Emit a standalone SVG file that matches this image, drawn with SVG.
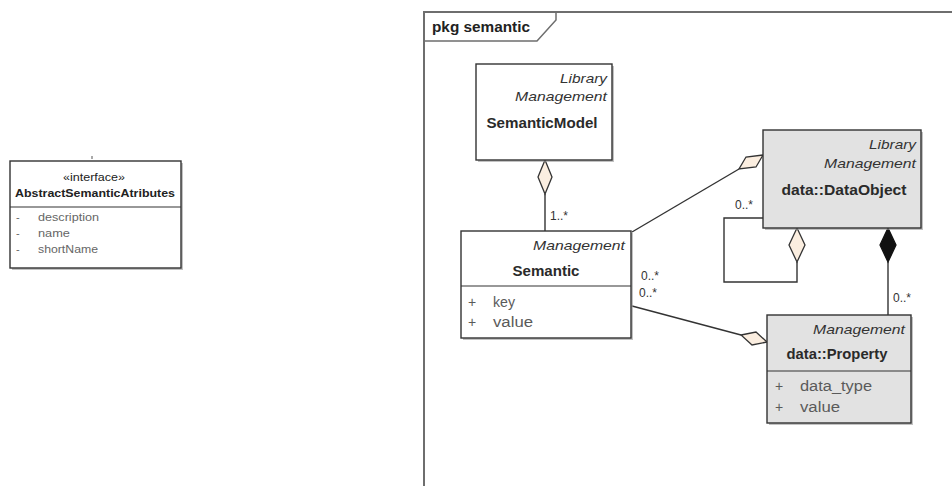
<svg xmlns="http://www.w3.org/2000/svg" width="952" height="486" viewBox="0 0 952 486">
  <style>
    text { font-family: "Liberation Sans", Arial, sans-serif; fill: #222; }
    .box { stroke: #333; stroke-width: 1.4; }
    .plain { fill: #ffffff; }
    .data { fill: #e2e2e2; }
    .shadow { fill: #9a9a9a; opacity: 0.6; }
    .stereo { font-size: 13.5px; font-style: italic; text-anchor: end; fill: #333; }
    .name { font-size: 14.5px; font-weight: bold; text-anchor: middle; fill: #2a2a2a; }
    .attr { font-size: 14px; fill: #5a5a5a; }
    .mult { font-size: 12px; fill: #333; }
    .ifc { font-size: 11px; fill: #666; }
    .edge { fill: none; stroke: #333; stroke-width: 1.4; }
    .agg { fill: #fbeee0; stroke: #333; stroke-width: 1.3; }
    .comp { fill: #111; stroke: #111; stroke-width: 1.3; }
    .sep { stroke: #333; stroke-width: 1.2; }
  </style>

  <rect width="952" height="486" fill="#ffffff"/>

  <!-- interface on the left -->
  <g id="AbstractSemanticAtributes">
    <line x1="92" y1="156" x2="92" y2="159" stroke="#555" stroke-width="1"/>
    <rect class="shadow" x="12" y="163" width="171" height="107"/>
    <rect class="box plain" x="10" y="161" width="171" height="107" stroke-width="1.2"/>
    <text x="94" y="181" font-size="11" text-anchor="middle" fill="#333" textLength="62" lengthAdjust="spacingAndGlyphs">«interface»</text>
    <text x="95" y="197" font-size="11" font-weight="bold" text-anchor="middle" textLength="160" lengthAdjust="spacingAndGlyphs">AbstractSemanticAtributes</text>
    <line class="sep" x1="10" y1="207" x2="181" y2="207"/>
    <text class="ifc" x="16" y="221">-</text>
    <text class="ifc" x="38" y="221" textLength="61" lengthAdjust="spacingAndGlyphs">description</text>
    <text class="ifc" x="16" y="237">-</text>
    <text class="ifc" x="38" y="237" textLength="32" lengthAdjust="spacingAndGlyphs">name</text>
    <text class="ifc" x="16" y="253">-</text>
    <text class="ifc" x="38" y="253" textLength="60" lengthAdjust="spacingAndGlyphs">shortName</text>
  </g>

  <!-- package frame -->
  <g id="pkg-semantic">
    <path d="M424,486 L424,12 L952,12" fill="none" stroke="#6e6e6e" stroke-width="2"/>
    <path d="M424,41 L537,41 L556,20 L556,12" fill="none" stroke="#6e6e6e" stroke-width="1.5"/>
    <text x="432" y="32" font-size="14.5" font-weight="bold" fill="#333" textLength="98" lengthAdjust="spacingAndGlyphs">pkg semantic</text>
  </g>

  <!-- connectors -->
  <g id="connectors">
    <!-- SemanticModel aggregates Semantic -->
    <line class="edge" x1="545" y1="194" x2="545" y2="231"/>
    <path class="agg" d="M545,160 L552,177 L545,194 L538,177 Z"/>
    <text class="mult" x="550" y="220">1..*</text>

    <!-- Semantic to DataObject -->
    <line class="edge" x1="632" y1="232" x2="739" y2="169"/>
    <path class="agg" d="M763,155 L746,157 L739,169 L756,167 Z"/>
    <text class="mult" x="641" y="280">0..*</text>

    <!-- Semantic to Property -->
    <line class="edge" x1="632" y1="306" x2="741" y2="335"/>
    <path class="agg" d="M767,342 L756,332 L741,335 L752,345 Z"/>
    <text class="mult" x="639" y="297">0..*</text>

    <!-- DataObject self association -->
    <path class="edge" d="M763,218 L724,218 L724,282 L797,282 L797,262"/>
    <path class="agg" d="M797,228 L805,245 L797,262 L789,245 Z"/>
    <text class="mult" x="735" y="209">0..*</text>

    <!-- DataObject composes Property -->
    <line class="edge" x1="888" y1="262" x2="888" y2="315"/>
    <path class="comp" d="M888,228 L896,245 L888,262 L880,245 Z"/>
    <text class="mult" x="893" y="302">0..*</text>
  </g>

  <!-- SemanticModel -->
  <g id="SemanticModel">
    <rect class="shadow" x="478" y="66" width="136" height="96"/>
    <rect class="box plain" x="476" y="64" width="136" height="96"/>
    <text class="stereo" x="607" y="83" textLength="47" lengthAdjust="spacingAndGlyphs">Library</text>
    <text class="stereo" x="607" y="101" textLength="92" lengthAdjust="spacingAndGlyphs">Management</text>
    <text class="name" x="542" y="128" textLength="111" lengthAdjust="spacingAndGlyphs">SemanticModel</text>
  </g>

  <!-- Semantic -->
  <g id="Semantic">
    <rect class="shadow" x="463" y="233" width="170" height="107"/>
    <rect class="box plain" x="461" y="231" width="170" height="107"/>
    <text class="stereo" x="625" y="250" textLength="92" lengthAdjust="spacingAndGlyphs">Management</text>
    <text class="name" x="546" y="276" textLength="67" lengthAdjust="spacingAndGlyphs">Semantic</text>
    <line class="sep" x1="461" y1="286" x2="631" y2="286"/>
    <text class="attr" x="468" y="307">+</text>
    <text class="attr" x="493" y="307" textLength="22" lengthAdjust="spacingAndGlyphs">key</text>
    <text class="attr" x="468" y="327">+</text>
    <text class="attr" x="493" y="327" textLength="40" lengthAdjust="spacingAndGlyphs">value</text>
  </g>

  <!-- data::DataObject -->
  <g id="DataObject">
    <rect class="shadow" x="765" y="132" width="158" height="98"/>
    <rect class="box data" x="763" y="130" width="158" height="98"/>
    <text class="stereo" x="916" y="149" textLength="47" lengthAdjust="spacingAndGlyphs">Library</text>
    <text class="stereo" x="916" y="168" textLength="92" lengthAdjust="spacingAndGlyphs">Management</text>
    <text class="name" x="844" y="195" textLength="125" lengthAdjust="spacingAndGlyphs">data::DataObject</text>
  </g>

  <!-- data::Property -->
  <g id="Property">
    <rect class="shadow" x="769" y="317" width="144" height="108"/>
    <rect class="box data" x="767" y="315" width="144" height="108"/>
    <text class="stereo" x="905" y="334" textLength="92" lengthAdjust="spacingAndGlyphs">Management</text>
    <text class="name" x="837" y="359" textLength="101" lengthAdjust="spacingAndGlyphs">data::Property</text>
    <line class="sep" x1="767" y1="371" x2="911" y2="371"/>
    <text class="attr" x="775" y="391">+</text>
    <text class="attr" x="800" y="391" textLength="72" lengthAdjust="spacingAndGlyphs">data_type</text>
    <text class="attr" x="775" y="412">+</text>
    <text class="attr" x="800" y="412" textLength="40" lengthAdjust="spacingAndGlyphs">value</text>
  </g>
</svg>
